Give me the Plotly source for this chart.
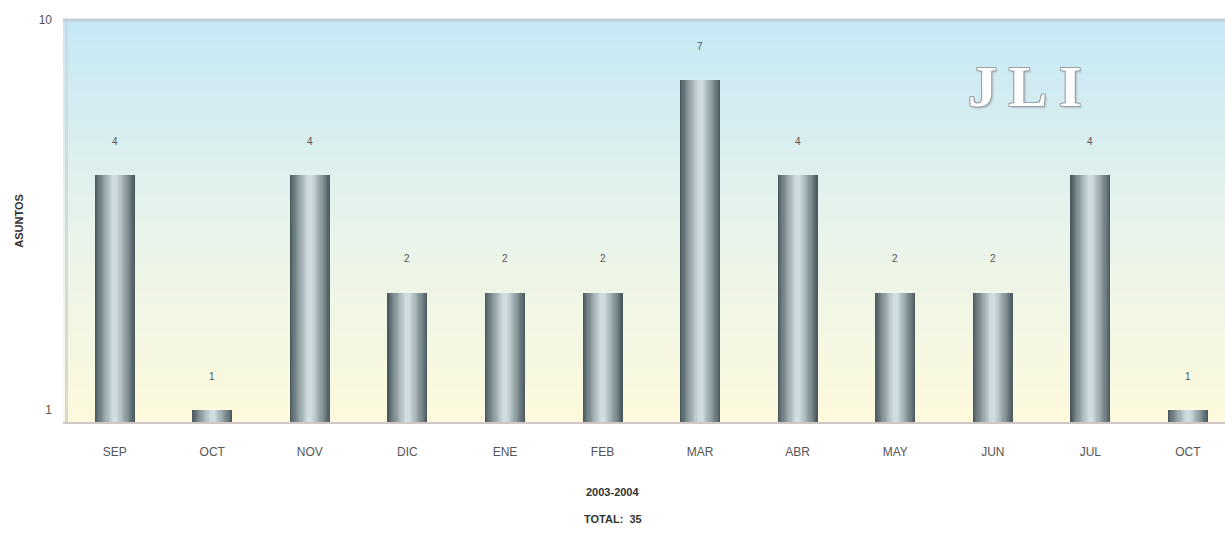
import math
import plotly.graph_objects as go

# Monthly counts of "asuntos", 2003-2004
months = ["SEP", "OCT", "NOV", "DIC", "ENE", "FEB", "MAR", "ABR", "MAY", "JUN", "JUL", "OCT"]
asuntos = [4, 1, 4, 2, 2, 2, 7, 4, 2, 2, 4, 1]
y_ticks = [1, 10]
period = "2003-2004"
total = sum(asuntos)

xpos = list(range(len(months)))

fig = go.Figure()

# Cylinder look: nested bars, dark at the rim and light toward the middle
bar_width = 0.41
rim = (74, 90, 94)
core = (208, 221, 224)
n_layers = 16
for k in range(n_layers):
    t = k / (n_layers - 1)
    frac = 1.0 - 0.88 * t
    s = t ** 0.9
    col = "rgb(%d,%d,%d)" % tuple(round(a + (b - a) * s) for a, b in zip(rim, core))
    fig.add_trace(go.Bar(
        x=xpos, y=asuntos, width=bar_width * frac,
        marker=dict(color=col, line=dict(width=0)),
        hoverinfo="skip" if k else None,
        showlegend=False,
    ))

# Value labels above each bar
for x, v in zip(xpos, asuntos):
    fig.add_annotation(
        x=x, y=math.log10(v), text=str(v), showarrow=False,
        yshift=34, font=dict(family="Liberation Sans", size=10, color="#555555"),
    )

# Vertical gradient background of the plotting area
def mix(c1, c2, t):
    return tuple(round(a + (b - a) * t) for a, b in zip(c1, c2))

stops = [(0.0, (253, 249, 220)), (0.45, (234, 244, 234)), (1.0, (197, 232, 246))]
n = 80
shapes = []
for i in range(n):
    t = (i + 0.5) / n
    for (p0, c0), (p1, c1) in zip(stops[:-1], stops[1:]):
        if p0 <= t <= p1:
            c = mix(c0, c1, (t - p0) / (p1 - p0))
            break
    shapes.append(dict(
        type="rect", xref="x domain", yref="y domain", layer="below",
        x0=0, x1=1, y0=i / n, y1=(i + 1) / n + 0.002,
        fillcolor="rgb(%d,%d,%d)" % c, line=dict(width=0),
    ))
# Frame lines on top and left
shapes.append(dict(type="line", xref="x domain", yref="y domain", x0=0, x1=1, y0=1, y1=1,
                   line=dict(color="#c4ced6", width=3), layer="above"))
shapes.append(dict(type="line", xref="x domain", yref="y domain", x0=0.003, x1=0.003, y0=0, y1=1,
                   line=dict(color="#d2dade", width=3), layer="below"))

fig.update_layout(
    width=1225, height=548,
    margin=dict(l=63, r=0, t=20, b=126),
    paper_bgcolor="white", plot_bgcolor="rgba(0,0,0,0)",
    barmode="overlay", bargap=0,
    shapes=shapes,
    font=dict(family="Liberation Sans", color="#555555"),
)

fig.update_xaxes(
    range=[-0.53, 11.38], tickvals=xpos, ticktext=months,
    showgrid=False, zeroline=False, ticks="",
    ticklabelstandoff=18,
    tickfont=dict(size=12, color="#555555"),
    showline=True, linecolor="#cfc6c6", linewidth=2,
)
fig.update_yaxes(
    type="log", range=[-0.03, 1], tickvals=y_ticks, ticktext=[str(t) for t in y_ticks],
    showgrid=False, zeroline=False, ticks="",
    ticklabelstandoff=10,
    tickfont=dict(size=12, color="#555555"),
    title=dict(text="<b>ASUNTOS</b>", font=dict(size=11, color="#333333"), standoff=12),
)

# Axis caption and total under the chart
page_center = (612.5 - 63) / 1162
fig.add_annotation(xref="paper", yref="paper", x=page_center, y=-0.195, text="<b>%s</b>" % period,
                   showarrow=False, font=dict(size=11, color="#333333"))
fig.add_annotation(xref="paper", yref="paper", x=page_center, y=-0.262, text="<b>TOTAL:  %d</b>" % total,
                   showarrow=False, font=dict(size=11, color="#333333"))

# Outlined logo
fig.add_annotation(
    xref="paper", yref="paper", x=(1024 - 63) / 1162, y=(422 - 86) / 402,
    xanchor="center", yanchor="middle",
    text="<b>J\u2009L\u2009I</b>", showarrow=False,
    font=dict(family="Liberation Serif", size=58, color="white",
              shadow="1px 1px 0 #98a2a6, -1px -1px 0 #98a2a6, 1px -1px 0 #98a2a6, -1px 1px 0 #98a2a6, 2px 2px 2px #b4c0c4"),
)

fig.write_html("out.html")
